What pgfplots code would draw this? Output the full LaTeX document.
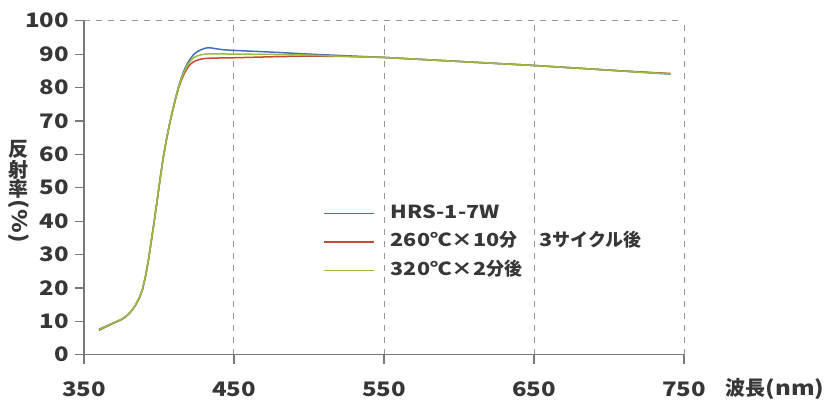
\documentclass[border=0pt]{standalone}
\usepackage{fontspec}
\setmainfont{Noto Sans CJK JP}[FakeStretch=1.2]
\newfontfamily\jp{Noto Sans CJK JP}
\usepackage{graphicx}
\usepackage{pgfplots}
\pgfplotsset{compat=1.18}
\definecolor{txtgray}{RGB}{55,55,55}
\definecolor{axgray}{RGB}{120,120,120}
\definecolor{gridgray}{RGB}{150,150,150}
\definecolor{cblue}{RGB}{70,110,195}
\definecolor{cred}{RGB}{195,75,50}
\definecolor{cgreen}{RGB}{150,190,60}

\begin{document}
\begin{tikzpicture}
\begin{axis}[
  scale only axis,
  width=300pt, height=167pt,
  xmin=350, xmax=750, ymin=0, ymax=100,
  clip=false,
  axis lines=left,
  axis line style={-, color=axgray, line width=0.6pt},
  xtick={350,450,550,650,750},
  ytick={0,10,...,90},
  extra y ticks={100},
  extra y tick style={ymajorgrids=true},
  xmajorgrids=true,
  grid style={dashed, color=gridgray, line width=0.5pt},
  tick align=outside,
  major tick length=4.5pt,
  tick style={color=axgray, line width=0.6pt},
  /pgf/number format/assume math mode=true,
  /pgf/number format/set thousands separator={},
  ticklabel style={font=\fontsize{10}{11}\selectfont\bfseries, color=txtgray},
  xticklabel style={yshift=-5.5pt},
  yticklabel style={xshift=0.5pt},
  legend style={draw=none, fill=none, at={(axis description cs:0.388,0.475)}, anchor=north west,
    font=\fontsize{9}{10}\selectfont\bfseries, text=txtgray, row sep=1.25pt,
    nodes={text height=7pt, text depth=2pt, inner sep=2pt},
    /tikz/every odd column/.style={column sep=6pt}},
  legend cell align=left,
  legend image code/.code={\draw[#1] (0pt,0pt) -- (25pt,0pt);},
]
\addplot[cblue, line width=0.75pt] coordinates {
  (360,7.6) (365,8.6) (370,9.6) (375,10.6) (378,11.5) (381,12.8) (384,14.6) (387,17.2)
  (389,19.6) (391,23.5) (393,28.5) (395,34.5) (397,40.5) (399,47) (401,53.5) (403,59.5)
  (405,64.5) (407,69) (409,73) (411,76.8) (413,80.2) (415,83) (417,85.4) (419,87.3)
  (421,88.7) (423,89.8) (425,90.6) (428,91.3) (431,91.8) (434,91.9) (438,91.6) (443,91.3)
  (450,91.1) (475,90.6) (500,90.0)
  (525,89.5) (550,89.0) (575,88.4) (600,87.8) (625,87.2) (650,86.6) (675,85.9)
  (700,85.2) (720,84.6) (741,84.0)
};
\addplot[cred, line width=0.75pt] coordinates {
  (360,7.3) (365,8.4) (370,9.5) (375,10.5) (378,11.4) (381,12.7) (384,14.5) (387,17.1)
  (389,19.5) (391,23.4) (393,28.4) (395,34.4) (397,40.4) (399,46.9) (401,53.4) (403,59.4)
  (405,64.4) (407,68.9) (409,72.9) (411,76.5) (413,79.7) (415,82.3) (417,84.3) (419,85.9)
  (421,87) (423,87.7) (425,88.1) (428,88.5) (431,88.7) (435,88.8) (450,88.9) (475,89.2)
  (500,89.4) (525,89.3)
  (550,89.0) (575,88.4) (600,87.8) (625,87.2) (650,86.6) (675,85.9) (700,85.2)
  (720,84.7) (741,84.2)
};
\addplot[cgreen, line width=0.75pt] coordinates {
  (360,7.5) (365,8.5) (370,9.6) (375,10.6) (378,11.5) (381,12.8) (384,14.6) (387,17.2)
  (389,19.6) (391,23.5) (393,28.5) (395,34.5) (397,40.5) (399,47) (401,53.5) (403,59.5)
  (405,64.5) (407,69) (409,73) (411,76.7) (413,80) (415,82.8) (417,85) (419,86.8)
  (421,88) (423,88.9) (425,89.4) (428,89.8) (431,90.0) (435,90.1) (450,90.0) (475,89.9)
  (500,89.7) (525,89.3)
  (550,89.0) (575,88.4) (600,87.8) (625,87.2) (650,86.6) (675,85.9) (700,85.2)
  (720,84.6) (741,84.1)
};
\legend{HRS-1-7W, 260℃×10{\jp 分}　3{\jp サイクル後}, 320℃×2{\jp 分後}}
\node[font=\fontsize{10}{9.5}\selectfont\bfseries\jp, text=txtgray, anchor=south, align=center, inner sep=0pt]
  (yl) at (axis description cs:-0.109,0.468) {反\\射\\率};
\node[font=\fontsize{10}{10}\selectfont\bfseries, text=txtgray, anchor=west, rotate=-90, inner sep=0pt]
  at ([yshift=-0.5pt]yl.south) {(\%)};
\node[font=\fontsize{10}{11}\selectfont\bfseries, text=txtgray, anchor=center]
  at (axis description cs:1.152,-0.104) {{\jp 波長}(nm)};
\end{axis}
\pgfresetboundingbox
\path (-42pt,-23.85pt) rectangle (370.5pt,177.35pt);
\end{tikzpicture}
\end{document}
